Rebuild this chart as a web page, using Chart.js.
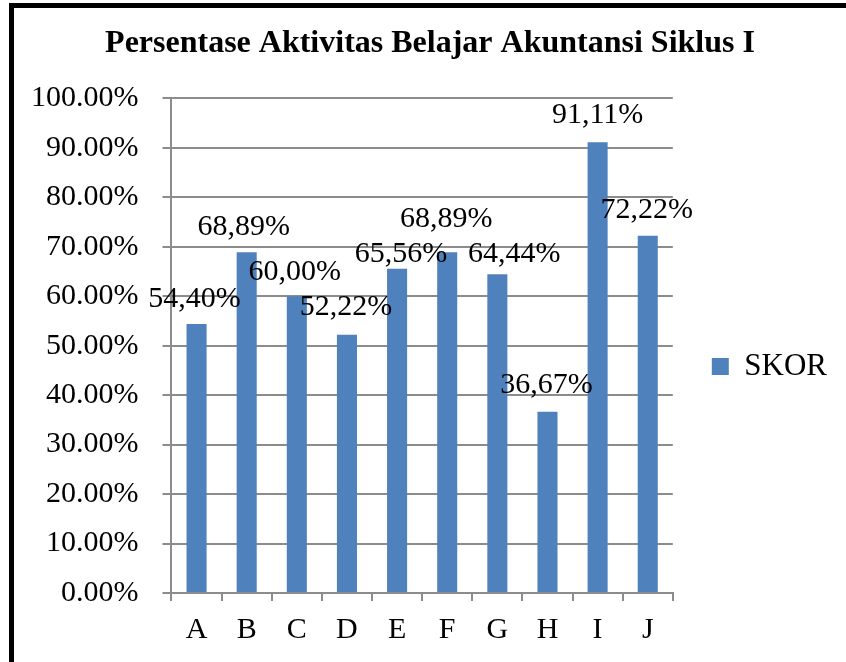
<!DOCTYPE html>
<html>
<head>
<meta charset="utf-8">
<script src="https://cdn.jsdelivr.net/npm/chart.js@4"></script>
<style>
  html, body { margin: 0; padding: 0; background: #fff; }
  #wrap { position: relative; width: 846px; height: 662px; overflow: hidden; }
  #frame {
    position: absolute; left: 9px; top: 3px; right: -10px; bottom: -10px;
    border-top: 5px solid #000; border-left: 5px solid #000; pointer-events: none;
  }
</style>
</head>
<body>
<div id="wrap">
  <canvas id="skorChart" width="846" height="662"></canvas>
  <div id="frame"></div>
</div>
<script>
// ==== Données
const categories = ["A", "B", "C", "D", "E", "F", "G", "H", "I", "J"];
const skor = [54.40, 68.89, 60.00, 52.22, 65.56, 68.89, 64.44, 36.67, 91.11, 72.22];
const skorLabels = ["54,40%", "68,89%", "60,00%", "52,22%", "65,56%", "68,89%", "64,44%", "36,67%", "91,11%", "72,22%"];
const yTickLabels = ["0.00%", "10.00%", "20.00%", "30.00%", "40.00%", "50.00%",
                     "60.00%", "70.00%", "80.00%", "90.00%", "100.00%"];

const FONT = "'Liberation Serif', 'Times New Roman', serif";
const GRID = "#8c8c8c";

// petits décalages des étiquettes (placées à la main dans l'original)
const labelNudge = [[-2, 0], [-3, 0], [-2, 1], [-1, -3], [4, 10], [-1, -8], [17, 5], [-1, -2], [0, -2], [-1, -1]];

// ==== Plugin étiquettes de valeurs
const valueLabels = {
  id: "valueLabels",
  afterDatasetsDraw(chart) {
    const ctx = chart.ctx;
    const meta = chart.getDatasetMeta(0);
    ctx.save();
    ctx.font = "30px " + FONT;
    ctx.fillStyle = "#000";
    ctx.textAlign = "center";
    ctx.textBaseline = "alphabetic";
    meta.data.forEach((bar, i) => {
      const n = labelNudge[i] || [0, 0];
      ctx.fillText(skorLabels[i], bar.x + n[0], bar.y - 17 + n[1]);
    });
    ctx.restore();
  },
};

const ctx = document.getElementById("skorChart").getContext("2d");
new Chart(ctx, {
  type: "bar",
  data: {
    labels: categories,
    datasets: [
      {
        label: "SKOR",
        data: skor,
        backgroundColor: "#4f81bd",
        borderWidth: 0,
        barPercentage: 0.4,
        categoryPercentage: 1.0,
      },
    ],
  },
  options: {
    responsive: false,
    animation: false,
    layout: { padding: { top: 10, left: 7, right: 9, bottom: 3 } },
    plugins: {
      title: {
        display: true,
        // deux espaces en tête : le titre est un peu décalé à droite dans l'original
        text: "  Persentase Aktivitas Belajar Akuntansi Siklus I",
        color: "#000",
        font: { family: FONT, size: 32, weight: "bold" },
        padding: { top: 15, bottom: 35 },
      },
      legend: {
        display: true,
        position: "right",
        title: { display: true, text: " ", font: { size: 10 }, padding: { top: 26, bottom: 26 } },
        labels: {
          color: "#000",
          font: { family: FONT, size: 31 },
          boxWidth: 17,
          boxHeight: 17,
          padding: 39,
        },
      },
      tooltip: { enabled: false },
    },
    scales: {
      x: {
        grid: {
          display: true,
          drawOnChartArea: false,
          drawTicks: true,
          tickLength: 8,
          color: GRID,
          lineWidth: 2,
        },
        border: { display: true, color: GRID, width: 2 },
        ticks: { color: "#000", font: { family: FONT, size: 30 }, padding: 11 },
      },
      y: {
        min: 0,
        max: 100,
        grid: { color: GRID, lineWidth: 2, tickLength: 9, drawTicks: true },
        border: { display: true, color: GRID, width: 2 },
        ticks: {
          stepSize: 10,
          color: "#000",
          font: { family: FONT, size: 30 },
          padding: 24,
          callback: (v, i) => yTickLabels[i],
        },
      },
    },
  },
  plugins: [valueLabels],
});
</script>
</body>
</html>
